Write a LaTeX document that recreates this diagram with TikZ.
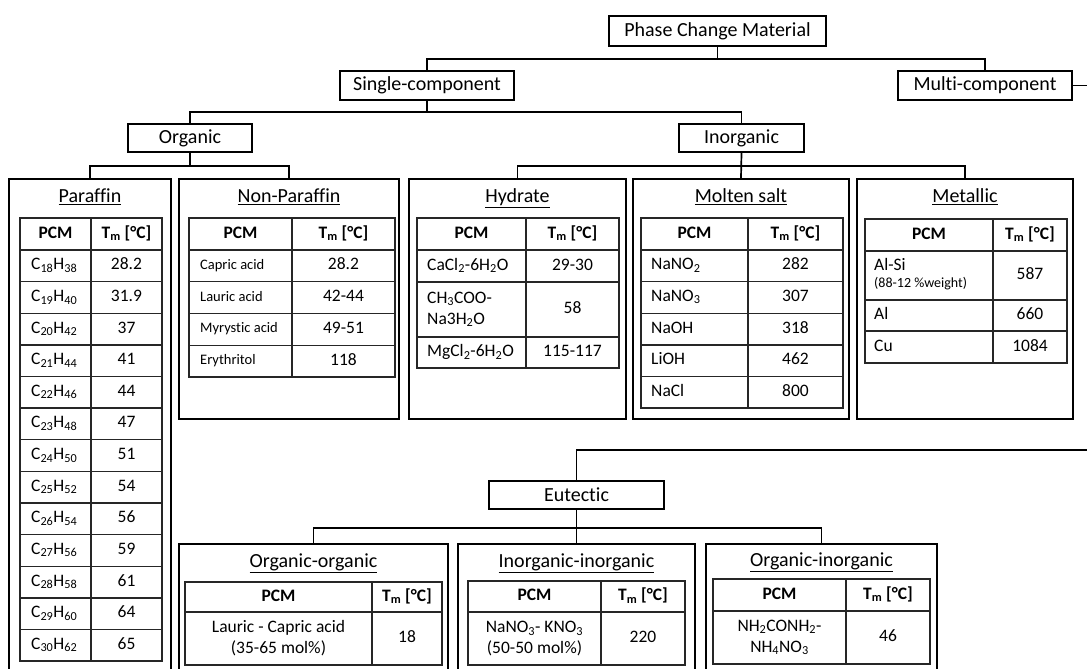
\documentclass[tikz,border=0pt]{standalone}
\usepackage{fontspec}
\setmainfont{Carlito}[Ligatures=NoCommon]
\newcommand\fsz[2]{\fontsize{#1}{#2}\selectfont}
\tikzset{
  px/.style={x=1pt,y=-1pt},
  box/.style={draw=black, line width=1.8pt, inner sep=0pt, font=\fsz{20}{24}},
  bigbox/.style={draw=black, line width=1.8pt, inner sep=0pt, anchor=north},
  conn/.style={draw=black, line width=1.7pt},
  tbl/.style={draw=black!85, line width=1.4pt},
  ttl/.style={inner sep=0pt, font=\fsz{20}{24}, text height=13pt, text depth=4pt},
  hd/.style={inner sep=0pt, font=\fsz{17.5}{20}\bfseries, text height=11pt, text depth=3pt},
  cell/.style={inner sep=0pt, font=\fsz{17.5}{20}, text height=11pt, text depth=3pt},
  small/.style={inner sep=0pt, font=\fsz{14.5}{17}, text height=10pt, text depth=3pt},
  tiny/.style={inner sep=0pt, font=\fsz{14}{17}, text height=10pt, text depth=3pt},
  two/.style={inner sep=0pt, font=\fsz{17.5}{21}},
}
\begin{document}
\begin{tikzpicture}[px]
\useasboundingbox (0,0) rectangle (1087,669);
\clip (0,0) rectangle (1087,669);
\fill[white] (0,0) rectangle (1087,669);

% ---------- top tree ----------
\node[box, minimum width=217pt, minimum height=30pt] (pcm) at (717.5,31) {Phase Change Material};
\node[box, minimum width=174pt, minimum height=29pt] (single) at (427,85.5) {Single-component};
\node[box, minimum width=174pt, minimum height=29pt] (multi) at (985,85.5) {Multi-component};
\node[box, minimum width=124pt, minimum height=28pt] (organic) at (190,138) {Organic};
\node[box, minimum width=125pt, minimum height=28pt] (inorganic) at (741.5,138) {Inorganic};
\node[box, minimum width=175pt, minimum height=28pt] (eutectic) at (576.5,495) {Eutectic};

% ---------- big boxes ----------
\node[bigbox, minimum width=162pt, minimum height=530pt] (paraffin) at (90,178) {};
\node[bigbox, minimum width=220pt, minimum height=240pt] (nonpar) at (289,178) {};
\node[bigbox, minimum width=217pt, minimum height=240pt] (hydrate) at (517.5,178) {};
\node[bigbox, minimum width=216pt, minimum height=240pt] (molten) at (741,178) {};
\node[bigbox, minimum width=216pt, minimum height=240pt] (metallic) at (965,178) {};
\node[bigbox, minimum width=269pt, minimum height=160pt] (orgorg) at (313.5,543) {};
\node[bigbox, minimum width=237pt, minimum height=160pt] (inin) at (576.5,543) {};
\node[bigbox, minimum width=231pt, minimum height=160pt] (orgin) at (821.5,543) {};

% ---------- connectors ----------
\draw[conn] (pcm.south) -- ++(0,12) -| (single.north);
\draw[conn] (pcm.south) -- ++(0,12) -| (multi.north);
\draw[conn] (single.south) -- ++(0,11) -| (organic.north);
\draw[conn] (single.south) -- ++(0,11) -| (inorganic.north);
\draw[conn] (organic.south) -- ++(0,13) -| (paraffin.north);
\draw[conn] (organic.south) -- ++(0,13) -| (nonpar.north);
\draw[conn] (inorganic.south) -- ++(0,13) -| (hydrate.north);
\draw[conn] (inorganic.south) -- (molten.north);
\draw[conn] (inorganic.south) -- ++(0,13) -| (metallic.north);
\coordinate (offA) at (1100,85.5);
\coordinate (offB) at (1100,450);
\draw[conn] (multi.east) -- (offA) -- (offB) -| (eutectic.north);
\draw[conn] (eutectic.south) -- ++(0,18) -| (orgorg.north);
\draw[conn] (eutectic.south) -- (inin.north);
\draw[conn] (eutectic.south) -- ++(0,18) -| (orgin.north);

% ---------- titles ----------
\node[ttl] (tPar) at (90,198) {\underline{Paraffin}};
\node[ttl] (tNon) at (289,198) {\underline{Non-Paraffin}};
\node[ttl] (tHyd) at (517.5,198) {\underline{Hydrate}};
\node[ttl] (tMol) at (741,198) {\underline{Molten salt}};
\node[ttl] (tMet) at (965,198) {\underline{Metallic}};
\node[ttl] (tOO) at (313.5,563) {\underline{Organic-organic}};
\node[ttl] (tII) at (576.5,563) {\underline{Inorganic-inorganic}};
\node[ttl] (tOI) at (821.5,562) {\underline{Organic-inorganic}};

% ---------- Paraffin table ----------
\foreach \k in {0,...,12} \draw[tbl] (20,{250+\k*31.62}) -- (162,{250+\k*31.62});
\draw[tbl] (20,218) rectangle (162,661);
\draw[tbl] (91,218) -- (91,661);
\node[hd] (parH1) at (55.5,234) {PCM};
\node[hd] (parH2) at (126.5,234) {T\textsubscript{m} [°C]};
\foreach \a/\b/\t [count=\i from 0] in {18/38/28.2,19/40/31.9,20/42/37,21/44/41,22/46/44,23/48/47,24/50/51,25/52/54,26/54/56,27/56/59,28/58/61,29/60/64,30/62/65} {
  \node[cell, anchor=west] (parN\i) at (31,{250+(\i+0.5)*31.62}) {C\textsubscript{\a}H\textsubscript{\b}};
  \node[cell] (parT\i) at (126.5,{250+(\i+0.5)*31.62}) {\t};
}

% ---------- Non-Paraffin table ----------
\foreach \k in {0,...,4} \draw[tbl] (189,{250+\k*31.75}) -- (395,{250+\k*31.75});
\draw[tbl] (189,218) rectangle (395,377);
\draw[tbl] (292,218) -- (292,377);
\node[hd] (npH1) at (240.5,234) {PCM};
\node[hd] (npH2) at (343.5,234) {T\textsubscript{m} [°C]};
\foreach \n/\t [count=\i from 0] in {Capric acid/28.2,Lauric acid/42-44,Myrystic acid/49-51,Erythritol/118} {
  \node[small, anchor=west] (npN\i) at (200,{250+(\i+0.5)*31.75}) {\n};
  \node[cell] (npT\i) at (343.5,{250+(\i+0.5)*31.75}) {\t};
}

% ---------- Hydrate table ----------
\draw[tbl] (417,218) rectangle (619,368);
\draw[tbl] (526,218) -- (526,368);
\draw[tbl] (417,250) -- (619,250);
\draw[tbl] (417,282) -- (619,282);
\draw[tbl] (417,337) -- (619,337);
\node[hd] (hyH1) at (471.5,234) {PCM};
\node[hd] (hyH2) at (572.5,234) {T\textsubscript{m} [°C]};
\node[cell, anchor=west] (hyN1) at (427,266) {CaCl\textsubscript{2}-6H\textsubscript{2}O};
\node[cell] (hyT1) at (572.5,266) {29-30};
\node[two, anchor=west, align=left] (hyN2) at (427,309.5) {CH\textsubscript{3}COO-\\Na3H\textsubscript{2}O};
\node[cell] (hyT2) at (572.5,309.5) {58};
\node[cell, anchor=west] (hyN3) at (427,352.5) {MgCl\textsubscript{2}-6H\textsubscript{2}O};
\node[cell] (hyT3) at (572.5,352.5) {115-117};

% ---------- Molten salt table ----------
\foreach \k in {0,...,4} \draw[tbl] (641,{250+\k*31.6}) -- (843,{250+\k*31.6});
\draw[tbl] (641,218) rectangle (843,408);
\draw[tbl] (748,218) -- (748,408);
\node[hd] (moH1) at (694.5,234) {PCM};
\node[hd] (moH2) at (795.5,234) {T\textsubscript{m} [°C]};
\foreach \n/\t [count=\i from 0] in {NaNO\textsubscript{2}/282,NaNO\textsubscript{3}/307,NaOH/318,LiOH/462,NaCl/800} {
  \node[cell, anchor=west] (moN\i) at (651,{250+(\i+0.5)*31.6}) {\n};
  \node[cell] (moT\i) at (795.5,{250+(\i+0.5)*31.6}) {\t};
}

% ---------- Metallic table ----------
\draw[tbl] (865,219) rectangle (1067,363);
\draw[tbl] (993,219) -- (993,363);
\draw[tbl] (865,251) -- (1067,251);
\draw[tbl] (865,300) -- (1067,300);
\draw[tbl] (865,331) -- (1067,331);
\node[hd] (meH1) at (929,235) {PCM};
\node[hd] (meH2) at (1030,235) {T\textsubscript{m} [°C]};
\node[cell, anchor=west] (meN1) at (874,266) {Al-Si};
\node[tiny, anchor=west] (meN1b) at (874,284) {(88-12 \%weight)};
\node[cell] (meT1) at (1030,275.5) {587};
\node[cell, anchor=west] (meN2) at (874,315.5) {Al};
\node[cell] (meT2) at (1030,315.5) {660};
\node[cell, anchor=west] (meN3) at (874,347) {Cu};
\node[cell] (meT3) at (1030,347) {1084};

% ---------- Organic-organic table ----------
\draw[tbl] (185,582) rectangle (442,665);
\draw[tbl] (185,612) -- (442,612);
\draw[tbl] (372,582) -- (372,665);
\node[hd] (ooH1) at (278.5,597) {PCM};
\node[hd] (ooH2) at (407,597) {T\textsubscript{m} [°C]};
\node[two, align=center] (ooN) at (278.5,638.5) {Lauric - Capric acid\\(35-65 mol\%)};
\node[cell] (ooT) at (407,638.5) {18};

% ---------- Inorganic-inorganic table ----------
\draw[tbl] (468,581) rectangle (685,665);
\draw[tbl] (468,612) -- (685,612);
\draw[tbl] (601,581) -- (601,665);
\node[hd] (iiH1) at (534.5,596.5) {PCM};
\node[hd] (iiH2) at (643,596.5) {T\textsubscript{m} [°C]};
\node[two, align=center] (iiN) at (534.5,638.5) {NaNO\textsubscript{3}- KNO\textsubscript{3}\\(50-50 mol\%)};
\node[cell] (iiT) at (643,638.5) {220};

% ---------- Organic-inorganic table ----------
\draw[tbl] (713,579) rectangle (930,664);
\draw[tbl] (713,611) -- (930,611);
\draw[tbl] (846,579) -- (846,664);
\node[hd] (oiH1) at (779.5,595) {PCM};
\node[hd] (oiH2) at (888,595) {T\textsubscript{m} [°C]};
\node[two, align=center] (oiN) at (779.5,637.5) {NH\textsubscript{2}CONH\textsubscript{2}-\\NH\textsubscript{4}NO\textsubscript{3}};
\node[cell] (oiT) at (888,637.5) {46};
\end{tikzpicture}
\end{document}
